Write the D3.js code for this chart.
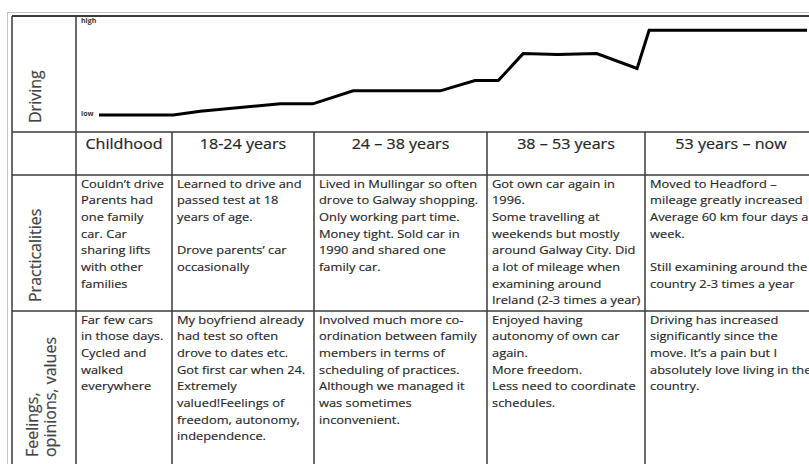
<!DOCTYPE html>
<html>
<head>
<meta charset="utf-8">
<script src="https://cdn.jsdelivr.net/npm/d3@7"></script>
<style>
  body { margin: 0; background: #fff; }
  svg { display: block; }
</style>
</head>
<body>
<div id="chart"></div>
<script>
// data

var periods = ["Childhood", "18-24 years", "24 \u2013 38 years", "38 \u2013 53 years", "53 years \u2013 now"];

var rowLabels = [["Driving"], ["Practicalities"], ["Feelings,", "opinions, values"]];

// driving line: progress along the timeline (0-100) and level (0 = low, 1 = high)
var drivingProgress = [0, 10.5, 14.3, 25.6, 30.2, 35.9, 48.2, 53.1, 56.4, 59.9, 64.8, 70.3, 76.0, 77.7, 100];
var drivingLevel    = [0, 0, 0.04, 0.12, 0.12, 0.26, 0.26, 0.37, 0.37, 0.66, 0.65, 0.66, 0.50, 0.91, 0.91];
var levelTicks = [0, 1];
var levelTickLabels = ["low", "high"];

var practicalities = [
    ["Couldn\u2019t drive", "Parents had", "one family", "car. Car", "sharing lifts", "with other", "families"],
    ["Learned to drive and", "passed test at 18", "years of age.", "", "Drove parents\u2019 car", "occasionally"],
    ["Lived in Mullingar so often", "drove to Galway shopping.", "Only working part time.", "Money tight. Sold car in", "1990 and shared one", "family car."],
    ["Got own car again in", "1996.", "Some travelling at", "weekends but mostly", "around Galway City. Did", "a lot of mileage when", "examining around", "Ireland (2-3 times a year)"],
    ["Moved to Headford \u2013", "mileage greatly increased", "Average 60 km four days a", "week.", "", "Still examining around the", "country 2-3 times a year"]
];

var feelings = [
    ["Far few cars", "in those days.", "Cycled and", "walked", "everywhere"],
    ["My boyfriend already", "had test so often", "drove to dates etc.", "Got first car when 24.", "Extremely", "valued!Feelings of", "freedom, autonomy,", "independence."],
    ["Involved much more co-", "ordination between family", "members in terms of", "scheduling of practices.", "Although we managed it", "was sometimes", "inconvenient."],
    ["Enjoyed having", "autonomy of own car", "again.", "More freedom.", "Less need to coordinate", "schedules."],
    ["Driving has increased", "significantly since the", "move. It\u2019s a pain but I", "absolutely love living in the", "country."]
];

// layout
var width = 809, height = 464;
var colEdges = [12, 76, 172, 314, 487, 645, 817];
var rowEdges = [16, 132, 175, 311, 470];
var pad = 5, lineHeight = 16.7;
var lineColor = "#3a3a3a", textColor = "#262626";
var fontFamily = "'Open Sans', 'Noto Sans', sans-serif";

var svg = d3.select("#chart").append("svg")
    .attr("width", width)
    .attr("height", height);

// outer faint frame
svg.append("rect")
    .attr("x", 7.5).attr("y", 12.5)
    .attr("width", width).attr("height", height)
    .attr("fill", "none")
    .attr("stroke", "#c4c4c4")
    .attr("stroke-width", 1);

// driving line chart
var x = d3.scaleLinear().domain([0, 100]).range([99, 807]);
var y = d3.scaleLinear().domain([0, 1]).range([115, 22]);

var line = d3.line()
    .x(function(d) { return x(d[0]); })
    .y(function(d) { return y(d[1]); });

svg.append("path")
    .datum(d3.zip(drivingProgress, drivingLevel))
    .attr("d", line)
    .attr("fill", "none")
    .attr("stroke", "#000")
    .attr("stroke-width", 3)
    .attr("stroke-linejoin", "miter");

svg.selectAll("text.level")
    .data(levelTicks)
    .enter().append("text")
    .attr("class", "level")
    .attr("x", 81)
    .attr("y", function(d) { return y(d) + 1; })
    .attr("font-family", fontFamily)
    .attr("font-size", 7)
    .attr("font-weight", "bold")
    .attr("fill", "#333")
    .text(function(d, i) { return levelTickLabels[i]; });

// grid lines
var grid = svg.append("g")
    .attr("stroke", lineColor)
    .attr("stroke-width", 1.5);

rowEdges.forEach(function(yy) {
    grid.append("line")
        .attr("x1", colEdges[0]).attr("x2", colEdges[colEdges.length - 1])
        .attr("y1", yy).attr("y2", yy);
});

colEdges.forEach(function(xx, i) {
    grid.append("line")
        .attr("x1", xx).attr("x2", xx)
        .attr("y1", i < 2 ? rowEdges[0] : rowEdges[1])
        .attr("y2", rowEdges[rowEdges.length - 1]);
});
grid.select("line").attr("stroke-width", 2);

// period headers (text stretched a bit, as in the scanned table)
svg.selectAll("text.period")
    .data(periods)
    .enter().append("text")
    .attr("class", "period")
    .attr("transform", function(d, i) {
        return "translate(" + ((colEdges[i + 1] + colEdges[i + 2]) / 2) + "," + (rowEdges[1] + 17) + ") scale(1.15,1)";
    })
    .attr("text-anchor", "middle")
    .attr("font-family", fontFamily)
    .attr("font-size", 14)
    .attr("fill", textColor)
    .attr("stroke", textColor)
    .attr("stroke-width", 0.2)
    .text(function(d) { return d; });

// row labels, rotated
var labelRows = [0, 2, 3];
rowLabels.forEach(function(lines, r) {
    var bottom = rowEdges[labelRows[r] + 1] - 9;
    if (r === 2) bottom = 457;
    lines.forEach(function(t, k) {
        var bx = lines.length > 1 ? 38 + k * 18 : 41;
        svg.append("text")
            .attr("transform", "translate(" + bx + "," + bottom + ") rotate(-90)")
            .attr("font-family", fontFamily)
            .attr("font-size", 16)
            .attr("fill", "#444")
            .attr("stroke", "#444")
            .attr("stroke-width", 0.2)
            .text(t);
    });
});

// cell texts
function drawCells(rows, rowIndex)
{
    rows.forEach(function(lines, c) {
        var g = svg.append("text")
            .attr("transform", "translate(" + (colEdges[c + 1] + pad) + "," + (rowEdges[rowIndex] + 12.5) + ") scale(1.17,1)")
            .attr("font-family", fontFamily)
            .attr("font-size", 11)
            .attr("fill", textColor)
            .attr("stroke", textColor)
            .attr("stroke-width", 0.15);
        lines.forEach(function(t, k) {
            g.append("tspan")
                .attr("x", 0)
                .attr("y", k * lineHeight)
                .text(t);
        });
    });
}

drawCells(practicalities, 2);
drawCells(feelings, 3);
</script>
</body>
</html>
